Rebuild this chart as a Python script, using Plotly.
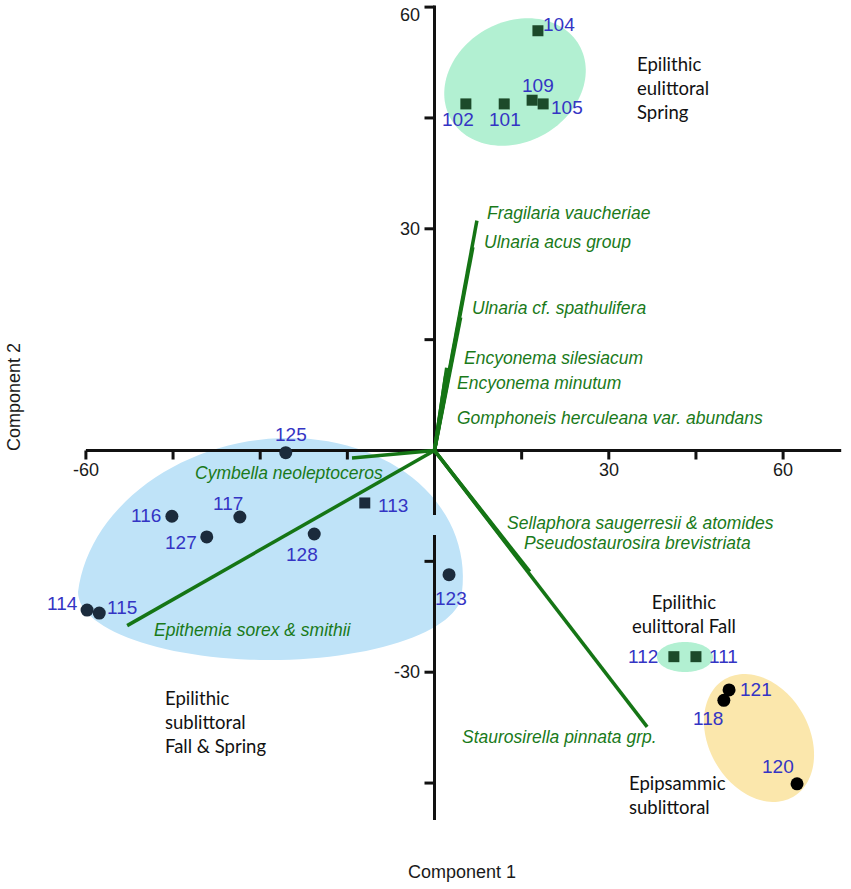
import math
import plotly.graph_objects as go

# ---------------- data ----------------
spring_ids = ["104", "102", "101", "109", "105"]
spring_c1 = [17.8, 5.4, 12.0, 16.8, 18.7]
spring_c2 = [56.8, 46.9, 46.9, 47.4, 46.9]

fall_ids = ["112", "111"]
fall_c1 = [41.2, 45.0]
fall_c2 = [-27.9, -27.9]

psam_ids = ["121", "118", "120"]
psam_c1 = [50.7, 49.8, 62.4]
psam_c2 = [-32.4, -33.8, -45.1]

sub_ids = ["125", "116", "117", "127", "128", "114", "115", "123"]
sub_c1 = [-25.6, -45.2, -33.5, -39.2, -20.7, -59.8, -57.7, 2.5]
sub_c2 = [-0.3, -8.9, -9.0, -11.7, -11.3, -21.6, -22.0, -16.8]

sub_sq_ids = ["113"]
sub_sq_c1 = [-12.0]
sub_sq_c2 = [-7.1]

species = ["Fragilaria vaucheriae", "Ulnaria acus group", "Ulnaria cf. spathulifera",
           "Encyonema silesiacum", "Encyonema minutum", "Gomphoneis herculeana var. abundans",
           "Cymbella neoleptoceros", "Epithemia sorex & smithii",
           "Sellaphora saugerresii & atomides", "Pseudostaurosira brevistriata",
           "Staurosirella pinnata grp."]
species_c1 = [7.3, 6.6, 4.5, 2.1, 1.9, 1.0, -14.2, -52.9, 16.4, 15.2, 36.6]
species_c2 = [31.1, 27.5, 18.0, 11.2, 10.0, 5.0, -1.0, -23.7, -16.4, -15.4, -37.4]

x_ticks = [-60, -45, -30, -15, 15, 30, 45, 60]
x_tick_labels = ["-60", "", "", "", "", "30", "", "60"]
y_ticks = [60, 45, 30, 15, -15, -30, -45]
y_tick_labels = ["60", "", "30", "", "", "-30", ""]

# ---------------- geometry helpers ----------------
W, H = 851, 889
SX, SY = 5.81, 7.39          # pixels per unit
OX, OY = 434.5, 450.5        # pixel position of the origin
XR = [-OX / SX, (W - OX) / SX]
YR = [(OY - H) / SY, OY / SY]


def px(xp, yp):
    """screen pixel -> data coordinates"""
    return (xp - OX) / SX, (OY - yp) / SY


def blob(cxp, cyp, a, b_top, b_bot, ang=0.0, shear=0.0, n=120):
    th = math.radians(ang)
    pts = []
    for i in range(n):
        t = 2 * math.pi * i / n
        u = a * math.cos(t)
        s = math.sin(t)
        v = -(b_top * s) if s > 0 else -(b_bot * s)   # screen y (down positive)
        if v < 0:
            u += shear * (-v)
        dx = u * math.cos(th) - v * math.sin(th)
        dy = u * math.sin(th) + v * math.cos(th)
        pts.append(px(cxp + dx, cyp + dy))
    return "M " + " L ".join(f"{x:.3f},{y:.3f}" for x, y in pts) + " Z"


fig = go.Figure()

# ---------------- group hulls ----------------
shapes = []
hulls = [
    (blob(515, 82, 74, 60, 60, ang=-30), "#b2f0d2"),
    (blob(685, 657, 28, 15, 15), "#b2f0d2"),
    (blob(759, 738, 68, 50, 50, ang=60), "#fbe7ac"),
    (blob(270, 592, 192, 154, 68, shear=0.12), "#bfe3f8"),
]
for path, col in hulls:
    shapes.append(dict(type="path", path=path, xref="x", yref="y",
                       fillcolor=col, line=dict(width=0), layer="below"))

# ---------------- axes drawn through the origin ----------------
AX = "#111111"
shapes.append(dict(type="line", x0=-60, x1=70, y0=0, y1=0, xref="x", yref="y",
                   line=dict(color=AX, width=3), layer="below"))
gap_top = px(0, 515)[1]
gap_bot = px(0, 535)[1]
shapes.append(dict(type="line", x0=0, x1=0, y0=60.2, y1=gap_top, xref="x", yref="y",
                   line=dict(color=AX, width=3), layer="below"))
shapes.append(dict(type="line", x0=0, x1=0, y0=gap_bot, y1=-50, xref="x", yref="y",
                   line=dict(color=AX, width=3), layer="below"))
for t in x_ticks:
    shapes.append(dict(type="line", xref="x", yref="y", x0=t, x1=t,
                       ysizemode="pixel", yanchor=0, y0=-9, y1=0,
                       line=dict(color=AX, width=3), layer="below"))
for t in y_ticks:
    shapes.append(dict(type="line", xref="x", yref="y", y0=t, y1=t,
                       xsizemode="pixel", xanchor=0, x0=-10, x1=0,
                       line=dict(color=AX, width=3), layer="below"))

# ---------------- species vectors ----------------
vx, vy = [], []
for ex, ey in zip(species_c1, species_c2):
    vx += [0, ex, None]
    vy += [0, ey, None]
fig.add_trace(go.Scatter(x=vx, y=vy, mode="lines",
                         line=dict(color="#157515", width=3.5),
                         hoverinfo="skip", showlegend=False))

# ---------------- sample points ----------------
SQ_GREEN = "#1c4a2a"
NAVY = "#1b2b3c"
fig.add_trace(go.Scatter(x=spring_c1, y=spring_c2, mode="markers", text=spring_ids,
                         marker=dict(symbol="square", size=11, color=SQ_GREEN), showlegend=False))
fig.add_trace(go.Scatter(x=fall_c1, y=fall_c2, mode="markers", text=fall_ids,
                         marker=dict(symbol="square", size=11, color=SQ_GREEN), showlegend=False))
fig.add_trace(go.Scatter(x=sub_c1, y=sub_c2, mode="markers", text=sub_ids,
                         marker=dict(symbol="circle", size=13, color=NAVY), showlegend=False))
fig.add_trace(go.Scatter(x=sub_sq_c1, y=sub_sq_c2, mode="markers", text=sub_sq_ids,
                         marker=dict(symbol="square", size=11, color=NAVY), showlegend=False))
fig.add_trace(go.Scatter(x=psam_c1, y=psam_c2, mode="markers", text=psam_ids,
                         marker=dict(symbol="circle", size=13, color="#000000"), showlegend=False))

# ---------------- annotations ----------------
ann = []
NUM_FONT = dict(family="Liberation Sans, Arial, sans-serif", size=19, color="#3434c4")
label_off = {  # pixel offsets (right, down) of each sample label
    "104": (21, -6), "102": (-8, 16), "101": (1, 16), "109": (6, -15), "105": (24, 4),
    "112": (-31, 0), "111": (28, 0), "121": (27, 0), "118": (-16, 18), "120": (-19, -17),
    "123": (2, 24), "125": (5, -18), "116": (-26, -1), "117": (-12, -14), "127": (-26, 6),
    "128": (-12, 20), "113": (28, 3), "114": (-25, -7), "115": (23, -6),
}
for ids, xs, ys in [(spring_ids, spring_c1, spring_c2), (fall_ids, fall_c1, fall_c2),
                    (psam_ids, psam_c1, psam_c2), (sub_ids, sub_c1, sub_c2),
                    (sub_sq_ids, sub_sq_c1, sub_sq_c2)]:
    for i, x, y in zip(ids, xs, ys):
        dx, dy = label_off[i]
        ann.append(dict(x=x, y=y, xref="x", yref="y", text=i, showarrow=False,
                        xshift=dx, yshift=-dy, font=NUM_FONT))

# species labels (left edge / centre line in pixels)
sp_label_px = [(485, 213), (482, 242), (470, 308), (462, 358), (455, 383), (455, 418),
               (193, 473), (152, 630), (505, 523), (522, 543), (460, 737)]
SP_FONT = dict(family="Liberation Sans, Arial, sans-serif", size=17.5, color="#1a7a1a")
for name, (lx, ly) in zip(species, sp_label_px):
    x, y = px(lx, ly)
    ann.append(dict(x=x, y=y, xref="x", yref="y", text=f"<i>{name}</i>", showarrow=False,
                    xanchor="left", yanchor="middle", font=SP_FONT))

# group labels
GRP_FONT = dict(family="Lato, Open Sans, sans-serif", size=18.5, color="#111111")
groups = [("Epilithic<br>eulittoral<br>Spring", 635, 51, "left"),
          ("Epilithic<br>sublittoral<br>Fall & Spring", 163, 685, "left"),
          ("Epilithic<br>eulittoral Fall", 684, 589, "center"),
          ("Epipsammic<br>sublittoral", 627, 770, "left")]
for txt, lx, ty, al in groups:
    x, y = px(lx, ty)
    ann.append(dict(x=x, y=y, xref="x", yref="y", text=txt, showarrow=False,
                    xanchor=al, yanchor="top", align=al, font=GRP_FONT))

# tick labels
TK_FONT = dict(family="Liberation Sans, Arial, sans-serif", size=18, color="#1a1a1a")
for t, lab in zip(x_ticks, x_tick_labels):
    if lab:
        ann.append(dict(x=t, y=0, xref="x", yref="y", text=lab, showarrow=False,
                        yanchor="middle", xanchor="center", yshift=-19, font=TK_FONT))
for t, lab in zip(y_ticks, y_tick_labels):
    if lab:
        ann.append(dict(x=0, y=t, xref="x", yref="y", text=lab, showarrow=False,
                        xanchor="right", yanchor="top" if t == max(y_ticks) else "middle",
                        xshift=-13, yshift=4 if t == max(y_ticks) else 0, font=TK_FONT))

# axis titles
AT_FONT = dict(family="Liberation Sans, Arial, sans-serif", size=18, color="#1a1a1a")
x, y = px(462, 872)
ann.append(dict(x=x, y=y, xref="x", yref="y", text="Component 1", showarrow=False, font=AT_FONT))
x, y = px(14, 397)
ann.append(dict(x=x, y=y, xref="x", yref="y", text="Component 2", showarrow=False,
                textangle=-90, font=AT_FONT))

fig.update_layout(
    width=W, height=H, margin=dict(l=0, r=0, t=0, b=0),
    paper_bgcolor="white", plot_bgcolor="white",
    xaxis=dict(range=XR, visible=False, fixedrange=True),
    yaxis=dict(range=YR, visible=False, fixedrange=True),
    shapes=shapes, annotations=ann, showlegend=False,
)

fig.write_html("out.html", config={"displayModeBar": False},
               post_script="document.body.style.margin='0';document.body.style.overflow='hidden';")
